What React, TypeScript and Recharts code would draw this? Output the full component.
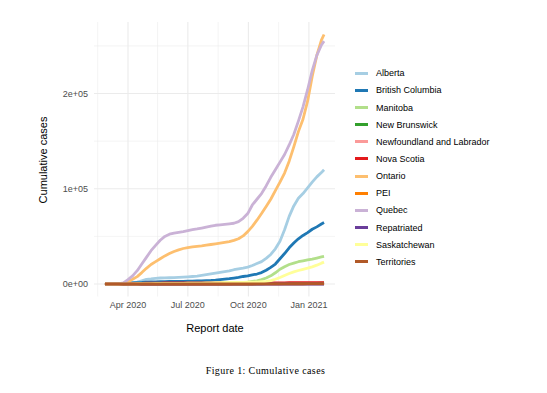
import { LineChart, Line, XAxis, YAxis, CartesianGrid } from 'recharts'

// weekly report dates (last one is the final report day)
const dates = [
  '2020-02-26', '2020-03-04', '2020-03-11', '2020-03-18', '2020-03-25',
  '2020-04-01', '2020-04-08', '2020-04-15', '2020-04-22', '2020-04-29',
  '2020-05-06', '2020-05-13', '2020-05-20', '2020-05-27',
  '2020-06-03', '2020-06-10', '2020-06-17', '2020-06-24',
  '2020-07-01', '2020-07-08', '2020-07-15', '2020-07-22', '2020-07-29',
  '2020-08-05', '2020-08-12', '2020-08-19', '2020-08-26',
  '2020-09-02', '2020-09-09', '2020-09-16', '2020-09-23', '2020-09-30',
  '2020-10-07', '2020-10-14', '2020-10-21', '2020-10-28',
  '2020-11-04', '2020-11-11', '2020-11-18', '2020-11-25',
  '2020-12-02', '2020-12-09', '2020-12-16', '2020-12-23', '2020-12-30',
  '2021-01-06', '2021-01-13', '2021-01-20', '2021-01-24',
]

const alberta = [
  0, 0, 0, 100, 400, 900, 1400, 2000, 3400, 4900,
  5300, 6000, 6300, 6500, 6600, 6800, 7000, 7300, 7600, 7900,
  8300, 9000, 9800, 10600, 11500, 12300, 13000, 13800, 15000, 16000,
  16800, 17800, 19500, 21500, 23500, 27000, 31000, 37000, 45000, 57000,
  71000, 82000, 90000, 95000, 101000, 107000, 112500, 117000, 120000,
]
const britishColumbia = [
  10, 20, 40, 230, 660, 1070, 1290, 1490, 1720, 2090,
  2250, 2350, 2470, 2550, 2630, 2700, 2780, 2880, 2950, 3050,
  3170, 3330, 3590, 3840, 4200, 4680, 5180, 5600, 6300, 7000,
  7900, 8600, 9600, 10500, 12000, 14500, 17500, 21000, 26500, 32000,
  38000, 43000, 47500, 51000, 54000, 57500, 60000, 63000, 64500,
]
const manitoba = [
  0, 0, 0, 15, 35, 127, 217, 246, 262, 270,
  275, 284, 290, 294, 298, 300, 305, 311, 314, 320,
  330, 370, 420, 480, 560, 700, 960, 1200, 1400, 1580,
  1800, 2100, 2700, 3400, 4600, 6300, 8600, 11800, 15500, 18200,
  20500, 22000, 23400, 24300, 25300, 26200, 27300, 28400, 29000,
]
const newBrunswick = [
  0, 0, 0, 8, 33, 70, 103, 117, 118, 118,
  120, 120, 121, 121, 130, 136, 155, 164, 165, 168,
  170, 170, 172, 176, 178, 185, 187, 190, 192, 194,
  198, 201, 212, 270, 310, 335, 340, 350, 360, 380,
  430, 500, 540, 570, 590, 620, 780, 980, 1000,
]
const newfoundland = [
  0, 0, 0, 3, 102, 175, 228, 257, 257, 258,
  259, 260, 260, 260, 261, 261, 261, 261, 261, 262,
  264, 264, 266, 267, 268, 268, 269, 269, 271, 272,
  274, 275, 280, 281, 285, 287, 291, 298, 307, 315,
  325, 345, 355, 385, 390, 395, 400, 400, 400,
]
const novaScotia = [
  0, 0, 0, 12, 68, 193, 342, 549, 737, 935,
  1007, 1026, 1048, 1055, 1058, 1061, 1061, 1064, 1066, 1067,
  1067, 1069, 1070, 1071, 1071, 1074, 1077, 1081, 1085, 1086,
  1087, 1087, 1088, 1090, 1094, 1105, 1117, 1136, 1170, 1234,
  1320, 1380, 1420, 1450, 1480, 1510, 1540, 1560, 1570,
]
const ontario = [
  0, 0, 20, 200, 700, 2500, 5000, 7800, 12000, 16500,
  20500, 23500, 26500, 29500, 32000, 34200, 35900, 37300, 38300, 39000,
  39600, 40100, 40800, 41500, 42200, 42900, 43700, 44600, 45800, 47500,
  50500, 55000, 60500, 67000, 74000, 81500, 89000, 98000, 107000, 116500,
  129000, 144000, 160000, 173000, 192000, 218000, 240000, 256000, 262000,
]
const pei = [
  0, 0, 0, 1, 5, 21, 22, 25, 26, 27,
  27, 27, 27, 27, 27, 27, 30, 33, 34, 36,
  36, 36, 36, 36, 37, 40, 44, 44, 54, 56,
  57, 59, 61, 62, 64, 64, 64, 66, 68, 70,
  78, 84, 88, 92, 97, 100, 104, 108, 110,
]
const quebec = [
  0, 1, 10, 100, 1300, 4600, 8500, 14000, 21000, 28000,
  35000, 40500, 46000, 50000, 52300, 53500, 54300, 55000, 56000, 57000,
  57800, 58800, 59800, 60800, 61700, 62200, 62700, 63200, 63800, 65500,
  69000, 74000, 83000, 89000, 95000, 103000, 112000, 120000, 128000, 136000,
  146000, 157000, 171000, 186000, 204000, 224000, 240000, 251000, 255000,
]
const repatriated = [
  0, 0, 8, 13, 13, 13, 13, 13, 13, 13,
  13, 13, 13, 13, 13, 13, 13, 13, 13, 13,
  13, 13, 13, 13, 13, 13, 13, 13, 13, 13,
  13, 13, 13, 13, 13, 13, 13, 13, 13, 13,
  13, 13, 13, 13, 13, 13, 13, 13, 13,
]
const saskatchewan = [
  0, 0, 0, 10, 70, 184, 260, 300, 330, 380,
  520, 570, 620, 640, 650, 650, 720, 780, 800, 830,
  880, 1000, 1200, 1300, 1400, 1500, 1580, 1620, 1670, 1700,
  1800, 1900, 2000, 2100, 2400, 2800, 3500, 5000, 6800, 9000,
  11000, 12800, 14200, 15400, 16600, 18000, 19800, 21900, 23000,
]
const territories = [
  0, 0, 0, 1, 10, 25, 32, 34, 35, 37,
  37, 37, 37, 37, 37, 37, 37, 37, 38, 38,
  38, 38, 39, 40, 41, 42, 42, 42, 42, 42,
  43, 45, 47, 51, 55, 60, 70, 95, 170, 215,
  240, 270, 290, 300, 330, 350, 370, 390, 400,
]

const xTicks = ['2020-04-01', '2020-07-01', '2020-10-01', '2021-01-01']
const xMinorTicks = ['2020-02-15', '2020-05-16', '2020-08-16', '2020-11-16']
const yTicks = [0, 100000, 200000]
const yMinorTicks = [50000, 150000, 250000]

// RColorBrewer "Paired"
const COLORS = [
  '#a6cee3', '#1f78b4', '#b2df8a', '#33a02c', '#fb9a99', '#e31a1c',
  '#fdbf6f', '#ff7f00', '#cab2d6', '#6a3d9a', '#ffff99', '#b15928',
]

const series = [
  { key: 'ab', name: 'Alberta', values: alberta },
  { key: 'bc', name: 'British Columbia', values: britishColumbia },
  { key: 'mb', name: 'Manitoba', values: manitoba },
  { key: 'nb', name: 'New Brunswick', values: newBrunswick },
  { key: 'nl', name: 'Newfoundland and Labrador', values: newfoundland },
  { key: 'ns', name: 'Nova Scotia', values: novaScotia },
  { key: 'on', name: 'Ontario', values: ontario },
  { key: 'pe', name: 'PEI', values: pei },
  { key: 'qc', name: 'Quebec', values: quebec },
  { key: 'rp', name: 'Repatriated', values: repatriated },
  { key: 'sk', name: 'Saskatchewan', values: saskatchewan },
  { key: 'tr', name: 'Territories', values: territories },
]

const MONTHS = ['Jan', 'Feb', 'Mar', 'Apr', 'May', 'Jun', 'Jul', 'Aug', 'Sep', 'Oct', 'Nov', 'Dec']
const SANS = '"Liberation Sans", Arial, Helvetica, sans-serif'

const toDay = (s: string) => {
  const [y, m, d] = s.split('-').map(Number)
  return Date.UTC(y, m - 1, d) / 86400000
}
const fmtDate = (v: number) => {
  const dt = new Date(v * 86400000)
  return `${MONTHS[dt.getUTCMonth()]} ${dt.getUTCFullYear()}`
}
const fmtSci = (v: number) => v.toExponential(0).replace(/e([+-])(\d)$/, 'e$10$2')

const rows = dates.map((d, i) => {
  const row: Record<string, number> = { day: toDay(d) }
  series.forEach((s) => {
    row[s.key] = s.values[i]
  })
  return row
})

// ggplot-style 5% expansion on both axes
const x0 = toDay(dates[0])
const x1 = toDay(dates[dates.length - 1])
const xPad = (x1 - x0) * 0.05
const yMax = Math.max(...series.flatMap((s) => s.values))
const yPad = yMax * 0.05

export default function App() {
  const tickStyle = { fontSize: 9, fill: '#4d4d4d', fontFamily: SANS }

  return (
    <div style={{ position: 'relative', width: 531, height: 377, fontFamily: SANS }}>
      <div style={{ position: 'absolute', left: 0, top: 0 }}>
        <LineChart width={340} height={330} data={rows} margin={{ top: 14, right: 13, bottom: 0, left: 0 }}>
          <CartesianGrid
            stroke="#ececec"
            strokeWidth={0.6}
            horizontalValues={yMinorTicks}
            verticalValues={xMinorTicks.map(toDay)}
            syncWithTicks
          />
          <CartesianGrid stroke="#ebebeb" strokeWidth={1.1} syncWithTicks />
          <XAxis
            dataKey="day"
            type="number"
            domain={[x0 - xPad, x1 + xPad]}
            allowDataOverflow
            ticks={xTicks.map(toDay)}
            interval={0}
            tickFormatter={fmtDate}
            tick={tickStyle}
            axisLine={false}
            tickLine={false}
            tickSize={3}
            tickMargin={2}
            height={41.5}
          />
          <YAxis
            type="number"
            domain={[-yPad, yMax + yPad]}
            allowDataOverflow
            ticks={yTicks}
            interval={0}
            tickFormatter={fmtSci}
            tick={tickStyle}
            axisLine={false}
            tickLine={false}
            tickSize={4}
            tickMargin={2}
            width={86}
          />
          {series.map((s, i) => (
            <Line
              key={s.key}
              type="linear"
              dataKey={s.key}
              name={s.name}
              stroke={COLORS[i]}
              strokeWidth={2.8}
              strokeLinejoin="round"
              dot={false}
              activeDot={false}
              isAnimationActive={false}
            />
          ))}
        </LineChart>
      </div>

      <div
        style={{
          position: 'absolute', left: 34.5, top: 152, transform: 'translate(-50%, -50%) rotate(-90deg)',
          fontSize: 11, lineHeight: '13px', whiteSpace: 'nowrap', color: '#000',
        }}
      >
        Cumulative cases
      </div>
      <div
        style={{
          position: 'absolute', left: 207, top: 320, transform: 'translate(-50%, -50%)',
          fontSize: 11, lineHeight: '13px', whiteSpace: 'nowrap', color: '#000',
        }}
      >
        Report date
      </div>

      <div style={{ position: 'absolute', left: 347, top: 56.7 }}>
        {series.map((s, i) => (
          <div key={s.key} style={{ display: 'flex', alignItems: 'center', height: 17.15 }}>
            <div style={{ width: 13, height: 3, background: COLORS[i], marginRight: 8 }} />
            <span style={{ fontSize: 9, color: '#000', whiteSpace: 'nowrap' }}>{s.name}</span>
          </div>
        ))}
      </div>

      <div
        style={{
          position: 'absolute', left: 257.5, top: 362.7, transform: 'translate(-50%, -50%)',
          fontFamily: '"Liberation Serif", "Times New Roman", serif', fontSize: 10, letterSpacing: 0.4,
          lineHeight: '12px', whiteSpace: 'nowrap', color: '#000',
        }}
      >
        Figure 1: Cumulative cases
      </div>
    </div>
  )
}
